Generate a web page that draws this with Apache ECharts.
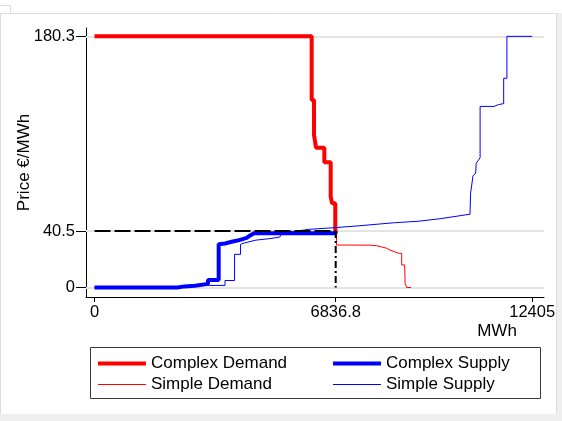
<!DOCTYPE html>
<html>
<head>
<meta charset="utf-8">
<script src="https://cdn.jsdelivr.net/npm/echarts@6/dist/echarts.min.js"></script>
<style>
  html, body { margin: 0; padding: 0; background: #ffffff; }
  #chart { width: 562px; height: 421px; }
</style>
</head>
<body>
<div id="chart"></div>
<script>
// Axis tick positions and labels
const xTickValues = [0, 6836.8, 12405];
const xTickLabels = ['0', '6836.8', '12405'];
const yTickValues = [0, 40.5, 180.3];
const yTickLabels = ['0', '40.5', '180.3'];

// Market clearing point (quantity in MWh, price in €/MWh)
const clearingQty = 6836.8;
const clearingPrice = 40.5;

// Complex orders – demand curve
const complexDemandQty   = [0, 6156, 6156, 6222, 6222, 6278, 6278, 6514, 6514, 6695, 6695, 6732, 6732, 6825, 6825, 6836.8, 6836.8];
const complexDemandPrice = [180.3, 180.3, 134.6, 134.6, 109.5, 109.5, 100.4, 100.4, 89.9, 89.9, 65.2, 65.2, 60.5, 60.5, 41.5, 41.5, 40.5];

// Complex orders – supply curve
const complexSupplyQty   = [0, 2350, 2550, 2849, 2849, 3217, 3217, 3520, 3520, 3700, 3889, 4100, 4314, 4400, 4456, 4520, 6836.8, 6836.8];
const complexSupplyPrice = [0, 0, 0.8, 1.2, 2.2, 2.6, 5.4, 5.4, 31.0, 31.6, 32.8, 34.0, 35.6, 37.2, 38.5, 39.0, 39.0, 40.5];

// Simple orders – demand curve
const simpleDemandQty   = [6860, 6860, 7800, 8000, 8282, 8376, 8611, 8707, 8707, 8790, 8805, 8849, 8849, 8971];
const simpleDemandPrice = [41.5, 30.5, 30.4, 30.0, 28.2, 26.9, 24.6, 24.6, 16.2, 16.2, 3.0, 3.0, 0, 0];

// Simple orders – supply curve
const simpleSupplyQty   = [0, 2350, 2600, 2849, 3254, 3699, 3699, 3970, 3970, 4140, 4140, 4250, 4575, 5000, 5250, 5306, 5306, 5500, 5731, 6100, 6836.8, 7500, 8500, 9200, 9800, 10300, 10643, 10660, 10729, 10805, 10820, 10836, 10930, 10930, 11326, 11326, 11448, 11448, 11598, 11598, 11690, 11690, 12405];
const simpleSupplyPrice = [0, 0, 0.6, 1.2, 1.5, 1.5, 5.0, 5.0, 23.8, 23.8, 31.0, 32.0, 34.0, 35.2, 36.2, 36.5, 38.5, 39.8, 40.5, 41.8, 43.0, 44.3, 46.5, 47.6, 49.4, 51.3, 52.6, 67.6, 80.3, 82.0, 89.2, 90.0, 93.2, 130.0, 130.0, 131.3, 131.3, 132.0, 132.0, 150.2, 150.2, 180.3, 180.3];

const FONT = '"Liberation Sans", Arial, Helvetica, sans-serif';

function pairs(qty, price) {
  return qty.map((q, i) => [q, price[i]]);
}
function labelFor(values, labels) {
  return function (v) {
    let best = 0;
    for (let i = 1; i < values.length; i++) {
      if (Math.abs(values[i] - v) < Math.abs(values[best] - v)) best = i;
    }
    return labels[best];
  };
}

const chart = echarts.init(document.getElementById('chart'), null, { renderer: 'canvas' });

const curveBase = { type: 'line', symbol: 'none', showSymbol: false, animation: false, silent: true, z: 2 };

const legendBase = {
  orient: 'vertical', top: 355, padding: 0,
  itemWidth: 48, itemHeight: 17, itemGap: 4, selectedMode: false,
  itemStyle: { opacity: 0, borderWidth: 0 },
  textStyle: { color: '#000', fontSize: 17, fontFamily: FONT, lineHeight: 17 }
};

chart.setOption({
  animation: false,
  backgroundColor: '#ffffff',
  textStyle: { fontFamily: FONT },
  grid: { left: 86, right: 18, top: 28, bottom: 124, containLabel: false, outerBoundsMode: 'none' },
  xAxis: {
    type: 'value',
    min: -241,
    max: 12741,
    splitLine: { show: false },
    axisLine: { show: true, onZero: false, lineStyle: { color: '#000', width: 1 } },
    axisTick: { show: true, customValues: xTickValues, length: 5, lineStyle: { color: '#000', width: 1 } },
    axisLabel: {
      show: true, customValues: xTickValues, margin: 7,
      color: '#000', fontSize: 16.5, fontFamily: FONT,
      formatter: labelFor(xTickValues, xTickLabels)
    }
  },
  yAxis: {
    type: 'value',
    min: -6.82,
    max: 186.3,
    name: 'Price €/MWh',
    nameLocation: 'middle',
    nameGap: 53,
    nameMoveOverlap: false,
    nameTextStyle: { color: '#000', fontSize: 17, fontFamily: FONT },
    splitLine: { show: false },
    axisLine: { show: true, onZero: false, lineStyle: { color: '#000', width: 1 } },
    axisTick: { show: true, customValues: yTickValues, length: 10, lineStyle: { color: '#000', width: 1 } },
    axisLabel: {
      show: true, customValues: yTickValues, margin: 11,
      color: '#000', fontSize: 16.5, fontFamily: FONT,
      formatter: labelFor(yTickValues, yTickLabels)
    }
  },
  legend: [
    Object.assign({}, legendBase, {
      left: 96,
      data: [
        { name: 'Complex Demand', lineStyle: { width: 4 } },
        { name: 'Simple Demand', lineStyle: { width: 1 } }
      ]
    }),
    Object.assign({}, legendBase, {
      left: 331,
      data: [
        { name: 'Complex Supply', lineStyle: { width: 4 } },
        { name: 'Simple Supply', lineStyle: { width: 1 } }
      ]
    })
  ],
  graphic: [
    // outer frame of the figure
    { type: 'rect', silent: true, shape: { x: 556, y: 13, width: 6, height: 408 }, style: { fill: '#efefef' } },
    { type: 'rect', silent: true, shape: { x: 0, y: 414, width: 562, height: 7 }, style: { fill: '#efefef' } },
    { type: 'polyline', silent: true, shape: { points: [[0.5, 414], [0.5, 13.5], [556.5, 13.5], [556.5, 414]] }, style: { stroke: '#dddddd', fill: null, lineWidth: 1 } },
    { type: 'polyline', silent: true, shape: { points: [[0, 5.5], [10.5, 5.5], [10.5, 13.5]] }, style: { stroke: '#dddddd', fill: null, lineWidth: 1 } },
    // legend box
    { type: 'rect', silent: true, shape: { x: 90.5, y: 347.5, width: 450, height: 51 }, style: { stroke: '#3a3a3a', fill: null, lineWidth: 1 } },
    // x axis title
    { type: 'text', silent: true, x: 497, y: 331, style: { text: 'MWh', fill: '#000', font: '17px ' + FONT, textAlign: 'center', textVerticalAlign: 'middle' } }
  ],
  series: [
    {
      name: 'gridlines', type: 'line', data: [], symbol: 'none', silent: true, animation: false, z: 1,
      markLine: {
        z: 1, silent: true, animation: false, symbol: ['none', 'none'],
        label: { show: false },
        lineStyle: { color: '#e4e4e4', width: 2, type: 'solid' },
        emphasis: { disabled: true },
        data: yTickValues.map(v => ({ yAxis: v }))
      }
    },
    Object.assign({}, curveBase, {
      name: 'Complex Demand',
      data: pairs(complexDemandQty, complexDemandPrice),
      lineStyle: { color: '#ff0000', width: 4 }, itemStyle: { color: '#ff0000' }
    }),
    Object.assign({}, curveBase, {
      name: 'Complex Supply',
      data: pairs(complexSupplyQty, complexSupplyPrice),
      lineStyle: { color: '#0000ff', width: 4 }, itemStyle: { color: '#0000ff' }
    }),
    Object.assign({}, curveBase, {
      name: 'Simple Demand',
      data: pairs(simpleDemandQty, simpleDemandPrice),
      lineStyle: { color: '#ff0000', width: 1 }, itemStyle: { color: '#ff0000' }
    }),
    Object.assign({}, curveBase, {
      name: 'Simple Supply',
      data: pairs(simpleSupplyQty, simpleSupplyPrice),
      lineStyle: { color: '#0000ff', width: 1 }, itemStyle: { color: '#0000ff' }
    }),
    // clearing price guide
    Object.assign({}, curveBase, {
      name: 'clearing price', z: 3,
      data: [[0, clearingPrice], [clearingQty, clearingPrice]],
      lineStyle: { color: '#000', width: 2, type: [16, 4] }
    }),
    // clearing quantity guide
    Object.assign({}, curveBase, {
      name: 'clearing quantity', z: 3,
      data: [[clearingQty, clearingPrice], [clearingQty, 0]],
      lineStyle: { color: '#000', width: 2, type: [7, 3, 2, 3] }
    })
  ]
});
</script>
</body>
</html>
